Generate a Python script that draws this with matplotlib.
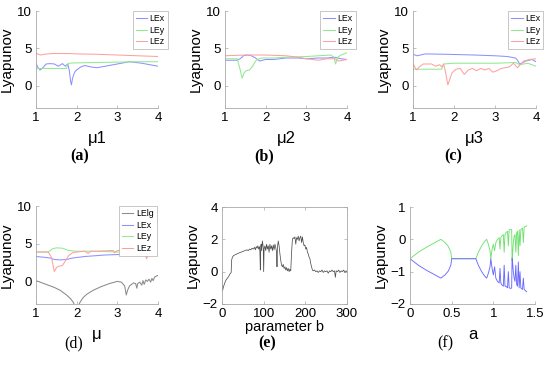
import numpy as np
import matplotlib
matplotlib.use("Agg")
import matplotlib.pyplot as plt

plt.rcParams['font.family'] = ['Liberation Sans', 'DejaVu Sans']

# colours of the exponent curves
c_x = '#9090ff'
c_y = '#90ea90'
c_z = '#ffa0a0'
c_lg = '#8a8a8a'

# ---------------- (a) mu1 ----------------
a_mu_x = [1.0, 1.05, 1.1, 1.15, 1.25, 1.35, 1.45, 1.55, 1.65, 1.72, 1.78, 1.82, 1.85, 1.87, 1.9, 1.95, 2.0, 2.1, 2.2, 2.35, 2.5, 2.7, 3.0, 3.3, 3.6, 4.0]
a_lex = [3.0, 2.4, 2.1, 2.3, 2.9, 2.95, 2.9, 2.6, 2.95, 2.6, 2.9, 2.0, 0.6, 0.1, 1.0, 1.8, 2.1, 2.5, 2.7, 2.5, 2.4, 2.6, 2.9, 3.2, 3.0, 2.6]
a_mu_y = [1.0, 1.2, 1.5, 1.75, 1.8, 2.0, 2.5, 3.0, 3.5, 4.0]
a_ley = [2.3, 2.3, 2.3, 2.3, 3.0, 3.05, 3.1, 3.15, 3.2, 3.2]
a_mu_z = [1.0, 1.05, 1.12, 1.2, 1.4, 1.6, 1.8, 2.0, 2.5, 3.0, 3.5, 4.0]
a_lez = [4.4, 4.2, 4.1, 4.2, 4.3, 4.3, 4.3, 4.25, 4.2, 4.1, 4.0, 3.9]

# ---------------- (b) mu2 ----------------
b_mu_x = [1.0, 1.3, 1.4, 1.45, 1.55, 1.65, 1.75, 1.85, 2.0, 2.2, 2.5, 2.8, 3.0, 3.3, 3.5, 3.7, 3.85, 4.0]
b_lex = [3.4, 3.4, 3.7, 4.0, 4.1, 4.0, 3.7, 3.3, 3.5, 3.5, 3.7, 3.7, 3.6, 3.7, 3.7, 3.8, 3.6, 3.5]
b_mu_y = [1.0, 1.3, 1.37, 1.42, 1.47, 1.52, 1.6, 1.68, 1.75, 1.8, 1.9, 2.2, 2.5, 3.0, 3.3, 3.6, 3.68, 3.72, 3.77, 3.85, 4.0]
b_ley = [3.6, 3.6, 2.2, 1.0, 1.7, 2.0, 2.1, 2.6, 3.3, 3.5, 3.7, 3.7, 3.8, 3.9, 4.0, 4.1, 3.8, 2.9, 3.8, 4.1, 4.4]
b_mu_z = [1.0, 1.5, 2.0, 2.5, 2.8, 3.0, 3.3, 3.5, 3.7, 3.8, 3.9, 4.0]
b_lez = [4.0, 4.1, 4.1, 4.0, 3.8, 3.6, 3.4, 3.6, 3.6, 3.3, 3.4, 3.5]

# ---------------- (c) mu3 ----------------
c_mu_x = [1.0, 1.1, 1.3, 1.8, 2.5, 3.0, 3.3, 3.5, 3.55, 3.6, 3.65, 3.75, 3.9, 4.0]
c_lex = [4.2, 4.0, 4.25, 4.2, 4.1, 4.0, 3.9, 3.7, 3.4, 2.9, 3.0, 3.3, 3.5, 3.2]
c_mu_y = [1.0, 1.3, 1.7, 1.75, 2.0, 2.5, 3.0, 3.5, 3.6, 3.8, 4.0]
c_ley = [2.2, 2.2, 2.2, 2.9, 3.0, 3.0, 3.0, 3.1, 2.8, 3.0, 2.6]
c_mu_z = [1.0, 1.05, 1.1, 1.15, 1.25, 1.45, 1.55, 1.65, 1.7, 1.75, 1.8, 1.85, 1.9, 1.95, 2.05, 2.15, 2.25, 2.35, 2.45, 2.55, 2.65, 2.75, 2.85, 2.95, 3.05, 3.15, 3.25, 3.35, 3.45, 3.55, 3.6, 3.7, 3.85, 4.0]
c_lez = [3.0, 2.4, 2.1, 2.5, 2.9, 2.9, 2.6, 2.8, 2.5, 2.9, 1.6, 0.1, 0.9, 1.7, 2.2, 2.3, 1.5, 2.1, 2.3, 2.0, 2.3, 2.1, 2.3, 1.8, 2.0, 2.3, 2.4, 2.5, 3.0, 2.4, 2.7, 3.3, 3.5, 3.6]

# ---------------- (d) mu ----------------
d_mu_lg = [1.0, 1.15, 1.3, 1.45, 1.6, 1.75, 1.85, 1.92, 1.96, 2.04, 2.08, 2.15, 2.25, 2.4, 2.6, 2.8, 3.0, 3.1, 3.18, 3.22, 3.25, 3.3, 3.4, 3.45, 3.48, 3.5, 3.55, 3.6, 3.63, 3.66, 3.7, 3.74, 3.78, 3.82, 3.85, 3.88, 3.92, 4.0]
d_lelg = [0.1, -0.2, -0.5, -0.8, -1.2, -1.8, -2.3, -2.8, -3.3, -3.3, -2.8, -2.2, -1.7, -1.2, -0.7, -0.3, 0.0, -0.1, -0.6, -1.8, -1.2, -0.6, -0.2, -0.3, -0.9, -0.3, -0.1, -0.5, 0.1, -0.4, 0.2, 0.0, 0.3, -0.1, 0.4, 0.1, 0.6, 0.8]
d_mu_x = [1.0, 1.2, 1.35, 1.45, 1.6, 1.75, 1.9, 2.2, 2.7, 3.2, 3.6, 3.68, 3.72, 3.76, 3.85, 4.0]
d_lex = [3.3, 3.2, 3.1, 2.9, 2.85, 2.9, 3.1, 3.3, 3.5, 3.6, 3.7, 3.9, 4.4, 3.8, 3.8, 3.8]
d_mu_y = [1.0, 1.3, 1.4, 1.5, 1.65, 1.8, 2.0, 2.5, 3.0, 3.5, 3.66, 3.72, 3.78, 3.9, 4.0]
d_ley = [3.9, 3.9, 4.3, 4.45, 4.4, 4.1, 4.0, 4.0, 3.9, 3.9, 3.8, 3.1, 3.7, 3.5, 3.4]
d_mu_z = [1.0, 1.3, 1.38, 1.45, 1.5, 1.55, 1.65, 1.72, 1.8, 1.9, 2.0, 2.2, 2.28, 2.35, 2.5, 2.9, 2.93, 3.0, 3.2, 3.24, 3.28, 3.4, 3.6, 3.67, 3.72, 3.77, 3.85, 4.0]
d_lez = [3.9, 3.9, 3.2, 1.3, 1.8, 2.0, 2.1, 2.7, 3.4, 3.8, 3.9, 4.0, 3.7, 4.0, 4.0, 4.1, 3.8, 4.1, 4.2, 4.0, 4.2, 4.2, 4.3, 4.1, 3.0, 4.2, 4.3, 4.5]

# ---------------- (e) parameter b ----------------
e_b = [0, 1, 2, 4, 6, 8, 10, 13, 16, 19, 22, 23, 25, 28, 32, 36, 40, 45, 50, 55, 60, 63, 66, 69, 72, 75, 78, 80, 82, 84, 86, 88, 90, 91, 92, 93, 94, 95, 97, 99, 100, 101, 103, 105, 107, 109, 111, 113, 115, 117, 119, 121, 123, 125, 127, 129, 131, 132, 133, 134, 135, 137, 139, 141, 143, 145, 147, 149, 151, 153, 155, 157, 159, 161, 163, 165, 167, 169, 171, 173, 175, 177, 179, 181, 183, 185, 187, 189, 191, 193, 195, 197, 199, 201, 203, 205, 207, 209, 211, 213, 215, 217, 219, 222, 225, 228, 231, 234, 237, 240, 243, 246, 249, 252, 255, 258, 261, 264, 267, 270, 272, 274, 277, 280, 283, 286, 289, 292, 295, 298, 300]
e_le = [0.0, -1.2, -1.1, -0.9, -0.75, -0.6, -0.5, -0.4, -0.3, -0.15, -0.05, 0.7, 0.9, 1.0, 1.05, 1.1, 1.15, 1.2, 1.25, 1.3, 1.35, 1.3, 1.4, 1.35, 1.45, 1.4, 1.5, 1.35, 1.55, 1.45, 1.6, 1.4, 1.55, 1.2, 0.1, 1.6, 1.7, 1.3, 1.9, 1.5, 0.0, 1.4, 1.6, 1.3, 1.7, 1.4, 1.6, 1.2, 1.7, 1.4, 1.6, 1.3, 1.65, 1.35, 1.7, 1.5, 1.2, 0.3, 1.5, 1.7, 1.9, 1.6, 1.1, 0.7, 0.4, 0.3, 0.45, 0.2, 0.3, 0.1, 0.25, 0.05, 0.2, 0.0, 0.15, 0.05, 1.2, 2.0, 2.1, 2.05, 2.15, 1.7, 2.1, 2.0, 2.2, 1.9, 2.1, 2.2, 1.8, 2.15, 1.8, 1.6, 1.65, 1.4, 1.5, 1.2, 1.1, 0.9, 0.8, 0.5, 0.3, 0.1, 0.05, 0.1, 0.0, 0.05, -0.05, 0.05, 0.0, 0.1, -0.05, 0.05, 0.0, 0.05, -0.1, 0.05, 0.0, 0.1, 0.0, 0.05, -0.35, 0.05, 0.0, 0.1, -0.05, 0.05, 0.0, 0.1, -0.05, 0.05, 0.0]

# ---------------- (f) parameter a ----------------
f_a = [0.0, 0.1, 0.2, 0.3, 0.37, 0.42, 0.46, 0.49, 0.5, 0.65, 0.79, 0.82, 0.86, 0.9, 0.92, 0.94, 0.96, 0.97, 0.985, 1.0, 1.015, 1.03, 1.05, 1.07, 1.08, 1.09, 1.1, 1.12, 1.13, 1.14, 1.15, 1.17, 1.18, 1.19, 1.21, 1.22, 1.225, 1.23, 1.24, 1.25, 1.26, 1.27, 1.28, 1.29, 1.3, 1.31, 1.32, 1.33, 1.35, 1.36, 1.37, 1.39, 1.4]
f_le1 = [-0.6, -0.4, -0.24, -0.1, 0.0, -0.1, -0.22, -0.4, -0.6, -0.6, -0.6, -0.4, -0.2, -0.05, 0.0, -0.15, -0.35, -0.6, -0.3, -0.15, -0.35, -0.1, 0.0, 0.05, -0.3, 0.05, 0.1, 0.15, -0.4, 0.15, 0.2, 0.25, -0.2, 0.3, 0.3, 0.3, -0.6, -0.5, -0.1, 0.1, 0.15, -0.4, 0.2, 0.25, -0.5, 0.3, -0.2, 0.3, 0.35, -0.1, 0.38, 0.4, 0.42]
f_le2 = [-0.6, -0.8, -0.96, -1.1, -1.2, -1.1, -0.98, -0.8, -0.6, -0.6, -0.6, -0.8, -1.0, -1.15, -1.2, -1.05, -0.85, -0.6, -0.9, -1.1, -0.85, -1.2, -1.3, -1.35, -0.9, -1.35, -1.4, -1.45, -0.8, -1.45, -1.45, -1.5, -1.0, -1.5, -1.52, -1.5, -0.6, -0.7, -1.0, -1.2, -1.3, -0.8, -1.4, -1.45, -0.7, -1.5, -1.0, -1.5, -1.55, -1.2, -1.55, -1.6, -1.62]

W, H = 550, 372
fig = plt.figure(figsize=(W / 100, H / 100), dpi=100)

TICK_FS = 9.5
XLAB_FS = 12
YLAB_FS = 11


def add_ax(x0, y_top, x1, y_bot):
    return fig.add_axes([x0 / W, 1 - y_bot / H, (x1 - x0) / W, (y_bot - y_top) / H])


def style(ax, box=False):
    for s in ['top', 'right']:
        ax.spines[s].set_visible(box)
    for s in ax.spines.values():
        s.set_color('#a8a8a8')
        s.set_linewidth(0.6)
    ax.tick_params(direction='in', length=2, width=0.5, color='#a8a8a8',
                   labelsize=TICK_FS, labelcolor='black', pad=3, top=box, right=box)


def leg(ax, bx, by):
    l = ax.legend(loc='upper right', bbox_to_anchor=(bx, by), borderaxespad=0,
                  fontsize=6.3, handlelength=1.3, handletextpad=0.3,
                  borderpad=0.35, labelspacing=0.3, fancybox=False, framealpha=1)
    l.get_frame().set_edgecolor('#b0b0b0')
    l.get_frame().set_linewidth(0.5)


lw = 0.75
axes = []

# (a)
ax = add_ax(36, 11, 158, 108)
ax.plot(a_mu_x, a_lex, color=c_x, lw=lw, label='LEx')
ax.plot(a_mu_y, a_ley, color=c_y, lw=lw, label='LEy')
ax.plot(a_mu_z, a_lez, color=c_z, lw=lw, label='LEz')
ax.set_xlabel('μ1', fontsize=XLAB_FS, labelpad=5)
leg(ax, 1.08, 1.0)
axes.append(ax)

# (b)
ax = add_ax(225, 11, 347, 108)
ax.plot(b_mu_x, b_lex, color=c_x, lw=lw, label='LEx')
ax.plot(b_mu_y, b_ley, color=c_y, lw=lw, label='LEy')
ax.plot(b_mu_z, b_lez, color=c_z, lw=lw, label='LEz')
ax.set_xlabel('μ2', fontsize=XLAB_FS, labelpad=5)
leg(ax, 1.07, 1.0)
axes.append(ax)

# (c)
ax = add_ax(413, 11, 536, 108)
ax.plot(c_mu_x, c_lex, color=c_x, lw=lw, label='LEx')
ax.plot(c_mu_y, c_ley, color=c_y, lw=lw, label='LEy')
ax.plot(c_mu_z, c_lez, color=c_z, lw=lw, label='LEz')
ax.set_xlabel('μ3', fontsize=XLAB_FS, labelpad=5)
leg(ax, 1.06, 1.0)
axes.append(ax)

# (d)
ax = add_ax(36, 206, 158, 304)
ax.plot(d_mu_lg, d_lelg, color=c_lg, lw=lw, label='LElg')
ax.plot(d_mu_x, d_lex, color=c_x, lw=lw, label='LEx')
ax.plot(d_mu_y, d_ley, color=c_y, lw=lw, label='LEy')
ax.plot(d_mu_z, d_lez, color=c_z, lw=lw, label='LEz')
ax.set_xlabel('μ', fontsize=XLAB_FS, labelpad=5)
leg(ax, 0.99, 1.0)
axes.append(ax)

for ax in axes:
    ax.set_xlim(1, 4)
    ax.set_ylim(-3, 10)
    ax.set_xticks([1, 2, 3, 4])
    ax.set_yticks([0, 5, 10])
    ax.set_ylabel('Lyapunov', fontsize=YLAB_FS, labelpad=2)
    style(ax)

# (e)
ax = add_ax(222, 207, 347, 304)
ax.plot(e_b, e_le, color='#505050', lw=0.55)
ax.set_xlim(0, 300)
ax.set_ylim(-2, 4)
ax.set_xticks([0, 100, 200, 300])
ax.set_yticks([-2, 0, 2, 4])
ax.set_xlabel('parameter b', fontsize=10.5, labelpad=0)
ax.set_ylabel('Lyapunov', fontsize=YLAB_FS, labelpad=2)
style(ax, box=True)

# (f)
ax = add_ax(410, 207, 535, 304)
ax.plot(f_a, f_le1, color='#70e070', lw=0.65)
ax.plot(f_a, f_le2, color='#6a6aff', lw=0.65)
ax.set_xlim(0, 1.5)
ax.set_ylim(-2, 1)
ax.set_xticks([0, 0.5, 1, 1.5])
ax.set_xticklabels(['0', '0.5', '1', '1.5'])
ax.set_yticks([-2, -1, 0, 1])
ax.set_xlabel('a', fontsize=XLAB_FS, labelpad=5)
ax.set_ylabel('Lyapunov', fontsize=YLAB_FS, labelpad=2)
style(ax)

# panel letters
panel_letters = ['(a)', '(b)', '(c)', '(d)', '(e)', '(f)']
letter_x = [80, 264, 453, 74, 267, 445]
letter_y = [156, 156, 156, 343, 343, 343]
letter_bold = [True, True, True, False, True, False]
for t, x, y, b in zip(panel_letters, letter_x, letter_y, letter_bold):
    fig.text(x / W, 1 - y / H, t, ha='center', va='center', fontsize=11.5,
             family='Liberation Serif', fontweight='bold' if b else 'normal')

fig.savefig('out.png', dpi=100)
